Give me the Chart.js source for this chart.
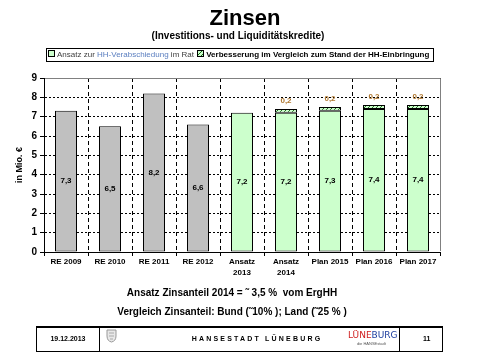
<!DOCTYPE html>
<html>
<head>
<meta charset="utf-8">
<script src="https://cdn.jsdelivr.net/npm/chart.js@4.4.1/dist/chart.umd.min.js"></script>
<style>
  html,body{margin:0;padding:0;background:#fff;}
  body{width:479px;height:359px;position:relative;overflow:hidden;font-family:"Liberation Sans",Arial,sans-serif;}
  #c{position:absolute;left:0;top:0;}
  .t{position:absolute;white-space:nowrap;color:#000;}
  #title{left:245px;top:7px;transform:translateX(-50%);font-size:22px;font-weight:bold;line-height:22px;}
  #sub{left:238px;top:30px;transform:translateX(-50%);font-size:10px;font-weight:bold;line-height:12px;}
  #legend{position:absolute;left:46px;top:48px;width:386px;height:12px;border:1px solid #000;font-size:8px;line-height:12px;white-space:nowrap;}
  #legend .sq{display:inline-block;width:5px;height:5px;border:1px solid #000;vertical-align:0px;margin:0 2px 0 1px;}
  #foot{position:absolute;left:36px;top:326px;width:405px;height:23px;border:1px solid #000;border-top-width:2px;}
  .cell{position:absolute;top:0;height:23px;border-right:1px solid #000;}
</style>
</head>
<body>
<canvas id="c" width="479" height="359"></canvas>
<div class="t" id="title">Zinsen</div>
<div class="t" id="sub">(Investitions- und Liquiditätskredite)</div>
<div id="legend"><span class="sq" style="background:#ccffcc"></span><span style="color:#404040">Ansatz zur <span style="color:#5b7fc0">HH-Verabschiedung</span> im Rat</span> <span class="sq" id="hsq"></span><b>Verbesserung im Vergleich zum Stand der HH-Einbringung</b></div>
<div class="t" style="left:232px;top:287px;transform:translateX(-50%);font-size:10px;font-weight:bold;">Ansatz Zinsanteil 2014 = ˜ 3,5 %&nbsp; vom ErgHH</div>
<div class="t" style="left:232px;top:306px;transform:translateX(-50%);font-size:10px;font-weight:bold;">Vergleich Zinsanteil: Bund (˜10% ); Land (˜25 % )</div>
<div id="foot">
  <div class="cell" style="left:0;width:62px;"></div>
  <div class="t" style="left:31px;top:7px;transform:translateX(-50%);font-size:7px;font-weight:bold;">19.12.2013</div>
  <svg style="position:absolute;left:69px;top:1px" width="11" height="14" viewBox="0 0 11 14"><path d="M1 1 H10 V7 Q10 12 5.5 13 Q1 12 1 7 Z" fill="#e8e8e8" stroke="#999" stroke-width="1"/><path d="M3 4 H8 M3 7 H8 M4 10 H7" stroke="#aaa" stroke-width="1"/></svg>
  <div class="t" style="left:220px;top:7px;transform:translateX(-50%);font-size:7px;font-weight:bold;letter-spacing:2.2px;">HANSESTADT LÜNEBURG</div>
  <div class="t" style="left:311px;top:2px;font-size:9px;line-height:10px;font-family:'DejaVu Sans',sans-serif;"><span style="color:#d02020">LÜNE</span><span style="color:#2040a0">BURG</span></div>
  <div class="t" style="left:320px;top:13px;font-size:4px;line-height:5px;color:#555;">die HANSEstadt</div>
  <div class="cell" style="left:362px;width:0;"></div>
  <div class="t" style="left:386px;top:7px;font-size:7px;font-weight:bold;">11</div>
</div>
<script>
const categories = [["RE 2009"],["RE 2010"],["RE 2011"],["RE 2012"],["Ansatz","2013"],["Ansatz","2014"],["Plan 2015"],["Plan 2016"],["Plan 2017"]];
const baseValues = [7.3, 6.5, 8.2, 6.6, 7.2, 7.2, 7.3, 7.4, 7.4];
const improvementValues = [null, null, null, null, null, 0.2, 0.2, 0.2, 0.2];
const isActual = [true, true, true, true, false, false, false, false, false];
const yTicks = [0,1,2,3,4,5,6,7,8,9];

function makeHatch(){
  const c = document.createElement('canvas'); c.width = 4; c.height = 4;
  const g = c.getContext('2d');
  g.fillStyle = '#ccffcc'; g.fillRect(0,0,4,4);
  g.strokeStyle = '#1a6a1a'; g.lineWidth = 1;
  g.beginPath();
  g.moveTo(-1,1); g.lineTo(1,-1);
  g.moveTo(0,4); g.lineTo(4,0);
  g.moveTo(3,5); g.lineTo(5,3);
  g.stroke();
  return {pattern: g.createPattern(c,'repeat'), url: c.toDataURL()};
}
const hatch = makeHatch();
document.getElementById('hsq').style.background = 'url(' + hatch.url + ')';

const fmt = v => String(v).replace('.', ',');

const overlay = {
  id: 'overlay',
  afterDatasetsDraw(chart){
    const ctx = chart.ctx;
    ctx.save();
    ctx.textAlign = 'center';
    ctx.textBaseline = 'middle';
    const m0 = chart.getDatasetMeta(0);
    ctx.font = 'bold 8px "Liberation Sans", Arial, sans-serif';
    ctx.fillStyle = '#000';
    m0.data.forEach((bar, i) => {
      if (baseValues[i] == null) return;
      ctx.fillText(fmt(baseValues[i]), bar.x, (bar.y + bar.base) / 2);
    });
    const m1 = chart.getDatasetMeta(1);
    ctx.fillStyle = '#b07830';
    m1.data.forEach((bar, i) => {
      if (improvementValues[i] == null) return;
      ctx.fillText(fmt(improvementValues[i]), bar.x, bar.y - 8);
    });
    ctx.restore();
  },
  afterDraw(chart){
    const {ctx, chartArea: a} = chart;
    ctx.save();
    ctx.strokeStyle = '#808080';
    ctx.lineWidth = 1;
    ctx.setLineDash([]);
    ctx.beginPath();
    ctx.moveTo(a.left + 1, Math.round(a.top) + 0.5);
    ctx.lineTo(Math.round(a.right) + 0.5, Math.round(a.top) + 0.5);
    ctx.lineTo(Math.round(a.right) + 0.5, a.bottom - 1);
    ctx.stroke();
    ctx.restore();
  }
};

new Chart(document.getElementById('c'), {
  type: 'bar',
  data: {
    labels: categories,
    datasets: [
      {
        data: baseValues,
        backgroundColor: isActual.map(a => a ? '#c0c0c0' : '#ccffcc'),
        borderColor: '#000',
        borderWidth: 1,
        borderSkipped: false,
        barPercentage: 0.5,
        categoryPercentage: 1.0
      },
      {
        data: improvementValues,
        backgroundColor: hatch.pattern,
        borderColor: '#000',
        borderWidth: 1,
        borderSkipped: false,
        barPercentage: 0.5,
        categoryPercentage: 1.0
      }
    ]
  },
  options: {
    responsive: false,
    animation: false,
    devicePixelRatio: 1,
    layout: { padding: { left: 0, top: 78, right: 39, bottom: 77 } },
    plugins: { legend: { display: false }, tooltip: { enabled: false } },
    scales: {
      x: {
        stacked: true,
        afterFit: s => { s.height = 30; },
        grid: { color: '#000', lineWidth: 1, offset: true, tickLength: 4, tickColor: '#000', drawTicks: true },
        border: { color: '#000', width: 1, dash: [4, 3] },
        ticks: { color: '#000', font: { family: '"Liberation Sans", Arial, sans-serif', size: 8, weight: 'bold', lineHeight: 1.4 }, padding: 0, maxRotation: 0, autoSkip: false }
      },
      y: {
        stacked: true,
        min: 0, max: 9,
        afterFit: s => { s.width = 44; },
        afterBuildTicks: s => { s.ticks = yTicks.map(v => ({ value: v })); },
        grid: { color: '#000', lineWidth: 1, tickLength: 4, tickColor: '#000' },
        border: { color: '#000', width: 1, dash: [2, 2] },
        ticks: { color: '#000', font: { family: '"Liberation Sans", Arial, sans-serif', size: 10, weight: 'bold' }, padding: 3 },
        title: { display: true, text: 'in Mio. €', color: '#000', font: { family: '"Liberation Sans", Arial, sans-serif', size: 9, weight: 'bold' }, padding: { top: 14, bottom: 0 } }
      }
    }
  },
  plugins: [overlay]
});
</script>
</body>
</html>
